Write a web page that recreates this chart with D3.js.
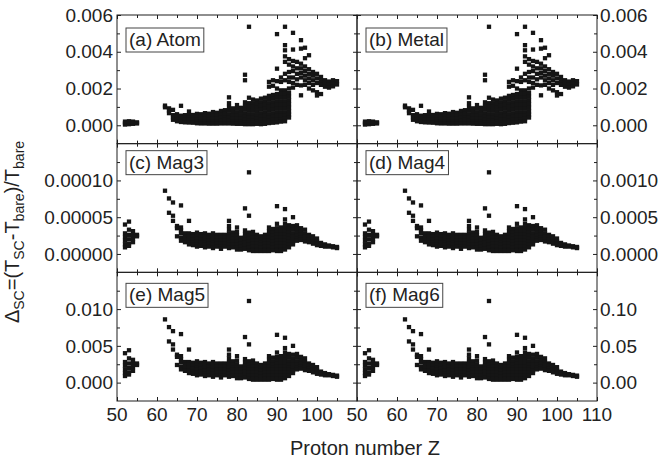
<!DOCTYPE html>
<html><head><meta charset="utf-8">
<script src="https://cdn.jsdelivr.net/npm/d3@7"></script>
<style>body{margin:0;background:#fff}svg{display:block}text{font-family:"Liberation Sans",Arial,sans-serif}</style>
</head><body><svg id="chart" width="659" height="461"></svg>
<script>
// Atom / Metal: values per proton number Z, in units of 1e-3
const atomZ = [52,53,54,55,62,63,64,65,66,67,68,69,70,71,72,73,74,75,76,77,78,79,80,81,82,83,84,85,86,87,88,89,90,91,92,93,94,95,96,97,98,99,100,101,102,103,104,105];
const atomV = [
 [0.04,0.12,0.2],[0.06,0.14,0.22],[0.08,0.14,0.2],[0.1,0.16],
 [1.07,0.98],[0.92,0.8,0.66],[0.84,0.55,0.42,0.3],[0.6,0.45,0.32,0.22],
 [1.06,0.52,0.38,0.26,0.18],[0.55,0.4,0.28,0.16],[0.75,0.56,0.42,0.28,0.15],[0.56,0.42,0.28,0.14],
 [0.62,0.46,0.32,0.2,0.11],[0.6,0.45,0.3,0.18,0.1],[0.66,0.5,0.34,0.2,0.1],[0.63,0.48,0.32,0.18,0.09],
 [0.72,0.55,0.38,0.22,0.09],[0.68,0.52,0.36,0.2,0.09],[0.78,0.6,0.42,0.26,0.1],[0.82,0.62,0.44,0.28,0.1],
 [1.52,1.2,1.0,0.8,0.6,0.42,0.26,0.1],[0.92,0.72,0.54,0.36,0.2,0.09],[1.1,0.9,0.7,0.52,0.34,0.18,0.08],[0.95,0.75,0.55,0.35,0.18,0.08],
 [2.75,2.45,1.25,1.05,0.85,0.65,0.46,0.28,0.12,0.06],[5.36,1.5,1.2,1.0,0.8,0.6,0.42,0.26,0.12,0.06],
 [1.4,1.2,1.0,0.8,0.6,0.42,0.26,0.12,0.06],[1.35,1.15,0.95,0.75,0.55,0.38,0.22,0.08],
 [1.45,1.25,1.05,0.85,0.65,0.46,0.28,0.12,0.06],[1.5,1.3,1.1,0.9,0.7,0.5,0.32,0.16,0.08],
 [2.36,2.1,1.6,1.4,1.2,1.0,0.8,0.6,0.42,0.26,0.12],[2.45,2.15,1.65,1.45,1.25,1.05,0.85,0.65,0.46,0.28,0.14],
 [4.96,3.08,2.4,2.0,1.7,1.5,1.3,1.1,0.9,0.7,0.5,0.32,0.16],[2.6,2.36,1.9,1.7,1.5,1.3,1.1,0.9,0.7,0.5,0.32,0.2],
 [5.36,4.36,4.08,3.75,3.45,2.8,2.45,1.9,1.7,1.5,1.3,1.1,0.9,0.7,0.5,0.34,0.22],
 [3.6,3.3,2.9,2.6,2.36,2.0,1.75,1.55,1.35,1.15,0.95,0.75,0.58,0.42],
 [5.03,4.12,3.5,3.2,2.95,2.6,2.3,2.05],[3.45,3.1,2.8,2.5,2.2],[4.63,4.17,3.35,3.1,2.85,2.6,2.17,1.63],
 [4.22,3.65,3.2,2.95,2.7,2.45,2.2],[3.81,3.05,2.8,2.55,2.3,2.0],[2.9,2.7,2.45,2.2,1.9],
 [2.8,2.55,2.3,1.8,1.62],[2.63,2.4,2.2,1.7],[2.45,2.3,2.1],[2.38,2.2,2.05],[2.45,2.27,2.12],[2.4,2.22]
];
// Magnetar models: values per Z, in units of 1e-5 for Mag3 (Mag4, Mag5, Mag6 are 10x, 100x, 1000x)
const magZ = [52,53,54,55,62,63,64,65,66,67,68,69,70,71,72,73,74,75,76,77,78,79,80,81,82,83,84,85,86,87,88,89,90,91,92,93,94,95,96,97,98,99,100,101,102,103,104,105];
const magV = [
 [4.0,2.8,2.3,1.8,1.3,0.9],[4.4,3.3,2.6,2.0,1.4,1.1],[3.1,2.6,2.1,1.6],[2.6,2.4],
 [8.6],[7.55,5.6],[7.0,5.2,4.5],[3.8,3.5,2.4],
 [6.6,3.6,3.2,2.8,2.2,1.8],[2.8,2.4,2.0,1.6],[4.5,2.8,2.4,2.0,1.6,1.3],[2.7,2.3,1.9,1.5,1.2],
 [2.9,2.5,2.1,1.7,1.3,1.0],[2.7,2.3,1.9,1.5,1.1],[2.8,2.4,2.0,1.6,1.2,0.9],[2.6,2.2,1.8,1.4,1.0],
 [2.8,2.4,2.0,1.6,1.2,0.8],[2.6,2.2,1.8,1.4,1.0],[2.6,2.2,1.8,1.4,1.0,0.7],[2.6,2.2,1.8,1.4,1.0],
 [4.5,3.8,3.3,2.8,2.4,2.0,1.6,1.2,0.8],[2.9,2.5,2.1,1.7,1.3,0.9],[3.6,3.0,2.5,2.1,1.7,1.3,0.9,0.6],[2.2,1.8,1.4,1.0,0.6],
 [6.2,3.2,2.7,2.3,1.9,1.5,1.1,0.7],[11.1,5.2,2.9,2.5,2.1,1.7,1.3,0.9,0.5],
 [3.0,2.6,2.2,1.8,1.4,1.0,0.6,0.4],[2.6,2.2,1.8,1.4,1.0,0.6,0.4],
 [2.4,2.0,1.6,1.2,0.8,0.4],[2.6,2.2,1.8,1.4,1.0,0.6,0.4],
 [3.6,3.1,2.6,2.2,1.8,1.4,1.0,0.6,0.4],[3.4,2.9,2.5,2.1,1.7,1.3,0.9,0.5],
 [6.5,4.1,3.5,3.0,2.6,2.2,1.8,1.4,1.0,0.6,0.4],[3.6,3.1,2.6,2.2,1.8,1.4,1.0,0.6,0.4],
 [6.1,4.7,4.1,3.6,3.1,2.6,2.2,1.8,1.4,1.0,0.6],[3.9,3.4,2.9,2.5,2.1,1.7,1.3,0.9],
 [5.0,3.8,3.3,2.8,2.4,2.0,1.6,1.3],[3.9,3.4,2.9,2.5,2.1,1.8],[3.5,3.0,2.6,2.2,1.9],
 [3.3,2.8,2.4,2.0,1.7],[2.6,2.3,1.9,1.6],[2.4,2.0,1.7,1.4],
 [2.1,1.7,1.4,1.2],[1.5,1.3,1.1],[1.3,1.1,1.0],[1.15,1.0],[1.05,0.9],[0.95,0.8]
];

const panelNames = ["(a) Atom","(b) Metal","(c) Mag3","(d) Mag4","(e) Mag5","(f) Mag6"];
const panelUnits = [1e-3,1e-3,1e-5,1e-4,1e-3,1e-2];
const yDomains = [[-0.001,0.006],[-0.001,0.006],[-0.000025,0.00015],[-0.00025,0.0015],[-0.0025,0.015],[-0.025,0.15]];
const yMajor = [[0,0.002,0.004,0.006],[0,0.002,0.004,0.006],[0,0.00005,0.0001],[0,0.0005,0.001],[0,0.005,0.01],[0,0.05,0.1]];
const yMinor = [[0.001,0.003,0.005],[0.001,0.003,0.005],[0.000025,0.000075,0.000125],[0.00025,0.00075,0.00125],[0.0025,0.0075,0.0125],[0.025,0.075,0.125]];
const yFormats = [".3f",".3f",".5f",".4f",".3f",".2f"];
const xDomain = [50,110];
const xMajorLeft = [50,60,70,80,90,100];
const xMajorRight = [50,60,70,80,90,100,110];
const xMinor = [55,65,75,85,95,105];
const xTitle = "Proton number Z";

const svg = d3.select("#chart");
const L = 117, MID = 357, R = 597, TOP = 15, BOT = 401;
const rowH = (BOT - TOP) / 3;
const ink = "#1e1e1e";
const boxOffsets = [13, 7, 11];

function styleAxis(sel) {
  sel.select(".domain").remove();
  sel.selectAll("line").attr("stroke", ink).attr("stroke-width", 1);
  sel.selectAll("text").remove();
}

panelNames.forEach((name, i) => {
  const col = i % 2, row = Math.floor(i / 2);
  const x0 = col === 0 ? L : MID, x1 = col === 0 ? MID : R;
  const y0 = TOP + row * rowH, y1 = y0 + rowH;
  const x = d3.scaleLinear().domain(xDomain).range([x0, x1]);
  const y = d3.scaleLinear().domain(yDomains[i]).range([y1, y0]);
  const g = svg.append("g");
  const isAtom = i < 2;
  const zs = isAtom ? atomZ : magZ, vs = isAtom ? atomV : magV;
  const pts = [];
  zs.forEach((z, k) => vs[k].forEach(v => pts.push([z, v * panelUnits[i]])));
  const s = 4.3;
  g.append("g").selectAll("rect").data(pts).join("rect")
    .attr("x", d => x(d[0]) - s / 2).attr("y", d => y(d[1]) - s / 2)
    .attr("width", s).attr("height", s).attr("fill", "#151515");

  // ticks (inward, all sides)
  g.append("g").attr("transform", `translate(0,${y1})`).call(d3.axisBottom(x).tickValues(xMajorRight).tickSize(-4)).call(styleAxis);
  g.append("g").attr("transform", `translate(0,${y1})`).call(d3.axisBottom(x).tickValues(xMinor).tickSize(-3)).call(styleAxis);
  g.append("g").attr("transform", `translate(0,${y0})`).call(d3.axisTop(x).tickValues(xMajorRight).tickSize(-4)).call(styleAxis);
  g.append("g").attr("transform", `translate(0,${y0})`).call(d3.axisTop(x).tickValues(xMinor).tickSize(-3)).call(styleAxis);
  g.append("g").attr("transform", `translate(${x0},0)`).call(d3.axisLeft(y).tickValues(yMajor[i]).tickSize(-4)).call(styleAxis);
  g.append("g").attr("transform", `translate(${x0},0)`).call(d3.axisLeft(y).tickValues(yMinor[i]).tickSize(-3)).call(styleAxis);
  g.append("g").attr("transform", `translate(${x1},0)`).call(d3.axisRight(y).tickValues(yMajor[i]).tickSize(-4)).call(styleAxis);
  g.append("g").attr("transform", `translate(${x1},0)`).call(d3.axisRight(y).tickValues(yMinor[i]).tickSize(-3)).call(styleAxis);

  g.append("rect").attr("x", x0).attr("y", y0).attr("width", x1 - x0).attr("height", y1 - y0)
    .attr("fill", "none").attr("stroke", ink).attr("stroke-width", 1);

  // y tick labels
  const fmt = d3.format(yFormats[i]);
  g.append("g").selectAll("text").data(yMajor[i]).join("text")
    .attr("x", col === 0 ? x0 - 4 : x1 + 3)
    .attr("y", d => y(d))
    .attr("dy", "0.35em")
    .attr("text-anchor", col === 0 ? "end" : "start")
    .attr("font-size", 19).attr("fill", "#222")
    .text(d => fmt(d));

  // x tick labels on bottom row
  if (row === 2) {
    g.append("g").selectAll("text").data(col === 0 ? xMajorLeft : xMajorRight).join("text")
      .attr("x", d => x(d)).attr("y", 421)
      .attr("text-anchor", "middle").attr("font-size", 19).attr("fill", "#222")
      .text(d => d);
  }

  // panel label box
  const lg = g.append("g");
  const box = lg.append("rect");
  const lbl = lg.append("text").attr("x", x0 + 12).attr("y", y0 + boxOffsets[row] + 18)
    .attr("font-size", 19).attr("fill", "#222").text(name);
  const bb = lbl.node().getBBox();
  box.attr("x", bb.x - 3).attr("y", y0 + boxOffsets[row])
    .attr("width", bb.width + 6).attr("height", 24)
    .attr("fill", "#fff").attr("stroke", "#444").attr("stroke-width", 1);
});

// axis titles
svg.append("text").attr("x", 365).attr("y", 455).attr("text-anchor", "middle")
  .attr("font-size", 20).attr("fill", "#222").text(xTitle);

const yt = svg.append("text").attr("transform", "translate(19,232) rotate(-90)")
  .attr("text-anchor", "middle").attr("font-size", 20).attr("fill", "#222");
const parts = [["Δ",0],["SC",1],["=(T",0],["SC",1],["-T",0],["bare",1],[")/T",0],["bare",1]];
parts.forEach(([t, sub], k) => {
  const ts = yt.append("tspan").text(t);
  if (sub) ts.attr("font-size", 14).attr("dy", 5);
  else if (k > 0) ts.attr("dy", -5);
});
</script></body></html>
